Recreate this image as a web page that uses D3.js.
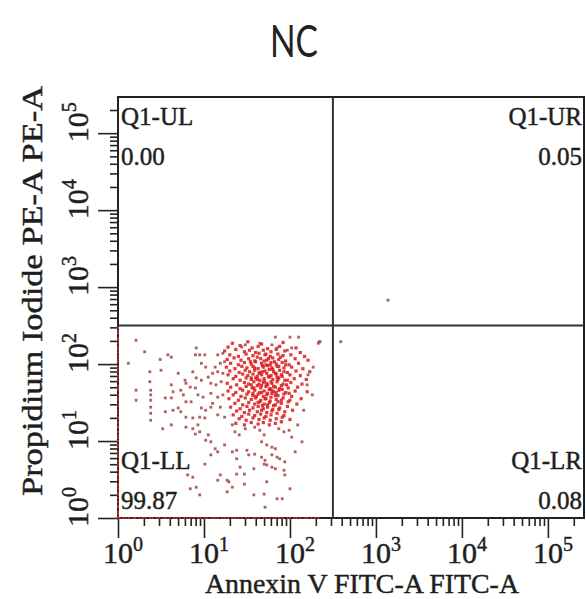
<!DOCTYPE html>
<html>
<head>
<meta charset="utf-8">
<script src="https://cdn.jsdelivr.net/npm/d3@7"></script>
<style>
  body { margin: 0; background: #fff; }
  .serif { font-family: "Liberation Serif", "Times New Roman", serif; fill: #1e1e1e; stroke: #1e1e1e; stroke-width: 0.45px; }
</style>
</head>
<body>
<div class="chart"></div>
<script>
const title = 'NC';
const xLabel = 'Annexin V FITC-A FITC-A';
const yLabel = 'Propidium Iodide PE-A PE-A';
const decades = [0, 1, 2, 3, 4, 5];
const gate = [316, 316];            // quadrant gate (Annexin, PI)
const quadNames = ['Q1-UL', 'Q1-UR', 'Q1-LL', 'Q1-LR'];
const quadValues = ['0.00', '0.05', '99.87', '0.08'];

// events as [log10 Annexin V, log10 PI]
const llCore = [
  [1.33,2.27],[1.51,2.29],[1.67,2.26],[1.92,2.28],
  [1.28,2.22],[1.42,2.24],[1.56,2.21],[1.63,2.23],[1.74,2.20],[1.88,2.23],[2.07,2.21],
  [1.24,2.17],[1.37,2.19],[1.47,2.16],[1.53,2.18],[1.60,2.15],[1.69,2.18],[1.78,2.16],[1.84,2.19],[1.94,2.17],[2.12,2.15],
  [1.30,2.12],[1.40,2.10],[1.49,2.13],[1.57,2.11],[1.64,2.14],[1.71,2.12],[1.77,2.10],[1.86,2.13],[1.92,2.11],[2.01,2.12],[2.17,2.10],
  [1.27,2.06],[1.35,2.08],[1.43,2.05],[1.52,2.07],[1.59,2.04],[1.66,2.07],[1.73,2.05],[1.80,2.08],[1.87,2.06],[1.95,2.04],[2.06,2.07],[2.21,2.05],
  [1.31,2.01],[1.40,1.99],[1.47,2.02],[1.55,2.00],[1.60,2.03],[1.67,2.01],[1.72,1.99],[1.78,2.02],[1.84,2.00],[1.91,2.02],[1.99,1.99],[2.10,2.01],
  [1.26,1.96],[1.36,1.94],[1.44,1.97],[1.50,1.95],[1.57,1.97],[1.63,1.94],[1.69,1.96],[1.74,1.98],[1.79,1.95],[1.85,1.97],[1.93,1.95],[2.02,1.96],[2.15,1.94],
  [1.30,1.91],[1.41,1.89],[1.48,1.92],[1.53,1.90],[1.59,1.92],[1.65,1.89],[1.71,1.91],[1.76,1.93],[1.81,1.90],[1.88,1.92],[1.97,1.89],[2.07,1.91],[2.23,1.90],
  [1.28,1.86],[1.37,1.84],[1.45,1.87],[1.51,1.85],[1.57,1.87],[1.62,1.84],[1.67,1.86],[1.73,1.88],[1.78,1.85],[1.84,1.87],[1.91,1.84],[2.00,1.86],[2.12,1.85],
  [1.34,1.81],[1.42,1.79],[1.49,1.82],[1.55,1.80],[1.60,1.82],[1.65,1.79],[1.70,1.81],[1.76,1.83],[1.80,1.80],[1.87,1.82],[1.94,1.79],[2.05,1.81],[2.19,1.80],
  [1.27,1.75],[1.38,1.73],[1.47,1.76],[1.52,1.74],[1.58,1.77],[1.64,1.74],[1.69,1.76],[1.74,1.73],[1.79,1.75],[1.85,1.77],[1.92,1.74],[2.01,1.76],[2.14,1.74],
  [1.31,1.70],[1.42,1.68],[1.49,1.71],[1.56,1.69],[1.62,1.72],[1.66,1.69],[1.72,1.71],[1.77,1.68],[1.83,1.70],[1.90,1.72],[1.98,1.69],[2.09,1.70],
  [1.28,1.65],[1.37,1.63],[1.45,1.66],[1.52,1.64],[1.59,1.66],[1.65,1.63],[1.70,1.65],[1.76,1.67],[1.81,1.64],[1.87,1.66],[1.95,1.63],[2.06,1.65],[2.20,1.64],
  [1.34,1.60],[1.43,1.58],[1.50,1.61],[1.57,1.59],[1.63,1.61],[1.69,1.58],[1.73,1.60],[1.79,1.62],[1.86,1.59],[1.93,1.61],[2.02,1.58],
  [1.29,1.55],[1.40,1.53],[1.48,1.56],[1.55,1.54],[1.60,1.56],[1.66,1.53],[1.72,1.55],[1.78,1.57],[1.84,1.54],[1.92,1.56],[2.00,1.53],[2.13,1.55],
  [1.36,1.49],[1.45,1.47],[1.52,1.50],[1.59,1.48],[1.65,1.51],[1.70,1.48],[1.76,1.50],[1.83,1.47],[1.90,1.49],[1.98,1.51],[2.08,1.48],
  [1.31,1.44],[1.42,1.42],[1.50,1.45],[1.57,1.43],[1.63,1.45],[1.69,1.42],[1.74,1.44],[1.81,1.46],[1.88,1.43],[1.97,1.45],
  [1.38,1.39],[1.47,1.37],[1.53,1.40],[1.62,1.38],[1.67,1.40],[1.73,1.37],[1.79,1.39],[1.87,1.41],[1.94,1.38],[2.03,1.40],
  [1.34,1.34],[1.44,1.32],[1.52,1.35],[1.59,1.33],[1.66,1.35],[1.72,1.32],[1.78,1.34],[1.85,1.36],[1.93,1.33],
  [1.41,1.29],[1.49,1.27],[1.57,1.30],[1.64,1.28],[1.70,1.30],[1.77,1.27],[1.84,1.29],[1.91,1.31],[2.00,1.28],
  [1.37,1.23],[1.47,1.21],[1.55,1.24],[1.63,1.22],[1.69,1.24],[1.76,1.21],[1.83,1.23],[1.90,1.25],
  [1.62,2.09],[1.75,2.07],[1.82,2.03],[1.68,1.98],[1.80,1.93],[1.87,1.97],[1.64,1.88],[1.75,1.84],[1.83,1.88],[1.90,1.86],
  [1.70,1.78],[1.78,1.77],[1.86,1.80],[1.67,1.72],[1.81,1.71],[1.88,1.68],[1.74,1.62],[1.84,1.63],[1.61,1.58],[1.77,1.52],
  [1.86,1.51],[1.68,1.46],[1.80,1.41],[1.58,1.69],[1.55,1.82],[1.96,1.73],[1.93,1.90],[1.72,2.13],[1.89,2.09],[1.99,1.62],
  [1.54,2.03],[1.70,2.04],[1.59,1.95],[1.77,1.99],[1.95,1.99],[1.68,1.90],[1.62,1.80],[1.85,1.83],[1.73,1.75],[1.97,1.79],
  [1.55,1.73],[1.79,1.66],[1.67,1.63],[1.91,1.67],[1.57,1.62],[1.83,1.59],[1.71,1.55],[1.90,1.53],[1.63,1.50],[1.74,1.47]
];

const llScatter = [
  [0.21,2.31],[0.31,2.16],[0.12,2.01],[0.49,2.06],[0.58,2.12],[0.62,2.09],[0.37,1.90],[0.37,1.77],[0.50,1.92],[0.70,1.88],
  [0.21,1.66],[0.21,1.53],[0.38,1.66],[0.38,1.60],[0.38,1.53],[0.38,1.44],[0.38,1.36],[0.38,1.27],[0.55,1.56],[0.62,1.56],
  [0.55,1.38],[0.64,1.40],[0.62,1.73],[0.64,1.64],[0.73,1.66],[0.76,1.60],[0.78,1.79],[0.79,1.75],[0.91,2.21],[0.90,2.12],
  [0.95,2.12],[1.01,2.12],[0.97,2.01],[1.02,1.96],[0.87,1.90],[0.91,1.82],[0.97,1.79],[0.84,1.70],[0.90,1.69],[0.93,1.60],
  [0.99,1.57],[0.79,1.51],[0.85,1.51],[0.79,1.31],[0.87,1.30],[0.97,1.43],[1.02,1.40],[1.08,1.44],[0.95,1.31],[1.01,1.30],
  [0.70,1.43],[0.73,1.38],[1.05,1.83],[1.10,1.88],[1.16,1.90],[1.22,1.88],[1.08,1.75],[1.14,1.73],[1.20,1.77],[1.13,1.96],
  [1.19,2.01],[1.24,2.03],[1.16,2.12],[1.22,2.14],[1.08,1.62],[1.16,1.57],[1.22,1.60],[1.10,1.49],[1.19,1.44],[1.16,1.34],
  [1.24,1.31],
  [1.83,2.35],[2.00,2.35],[2.10,2.35],[2.34,2.29],[1.65,2.27],[1.44,2.22],[1.48,2.25],[1.79,2.25],[1.85,2.21],[1.97,2.18],[2.02,2.21],
  [0.52,1.16],[0.62,1.21],[0.79,1.18],[0.87,1.16],[0.93,1.21],[0.90,1.09],[0.95,1.12],[1.05,1.08],[1.02,1.01],[1.08,0.99],
  [1.13,0.90],[1.08,0.82],[1.16,0.86],[1.01,0.70],[0.81,0.56],[0.87,0.53],[0.91,0.40],[0.84,0.38],[1.19,0.56],[1.16,0.49],[0.95,0.30],
  [1.33,1.21],[1.36,1.12],[1.41,1.08],[1.48,1.16],[1.59,1.18],[1.65,1.14],[1.70,1.08],[1.87,1.16],[1.93,1.12],[1.99,1.14],
  [2.02,1.05],[2.14,0.99],[1.67,0.99],[1.73,0.95],[1.79,0.92],[1.83,0.90],[1.24,0.95],[1.33,0.86],[1.38,0.88],[1.50,0.88],
  [1.52,0.82],[1.59,0.83],[1.38,0.77],[1.67,0.79],[1.71,0.75],[1.79,0.82],[1.85,0.79],[1.88,0.77],[2.06,0.86],[1.70,0.70],
  [1.73,0.69],[1.94,0.73],[1.42,0.66],[1.47,0.57],[1.38,0.57],[1.58,0.64],[1.79,0.66],[1.83,0.64],[1.93,0.62],[1.94,0.56],
  [1.27,0.49],[1.29,0.47],[1.47,0.44],[1.73,0.47],[1.33,0.40],[1.27,0.34],[2.00,0.38],[1.58,0.30],[1.70,0.31],[1.85,0.25],
  [1.91,0.25],[1.71,0.14],
  [2.27,1.96],[2.33,2.27],[2.20,1.73],[2.26,1.60],[2.16,1.40],[2.09,1.21],[2.21,1.86],[2.35,2.29]
];

const lrEvents = [[2.59, 2.29]];
const urEvents = [[3.14, 2.83]];

// PI (log10) of events piled at the Annexin V minimum
const leftPile = [0.01,0.05,0.08,0.14,0.16,0.21,0.26,0.3,0.33,0.38,0.42,0.44,0.5,0.55,0.57,0.62,0.67,0.7,0.74,0.8,
  0.83,0.86,0.92,0.95,1.0,1.04,1.07,1.12,1.17,1.19,1.24,1.29,1.31,1.36,1.4,1.45,1.48,1.53,1.56,1.6,1.66,1.69,1.72,
  1.78,1.82,1.85,1.9,1.94,1.97,2.03,2.06,2.1,2.15,2.19,2.22,2.27,2.31,2.34,2.4,2.43,2.47];
// Annexin V (log10) of events piled at the PI minimum
const bottomPile = [0.02,0.06,0.09,0.13,0.18,0.2,0.25,0.29,0.32,0.37,0.4,0.45,0.48,0.53,0.56,0.6,0.65,0.68,0.72,0.77,
  0.8,0.84,0.88,0.93,0.96,1.01,1.04,1.09,1.12,1.16,1.21,1.24,1.28,1.33,1.36,1.4,1.44,1.49,1.52,1.57,1.6,1.64,1.69,
  1.72,1.76,1.81,1.84,1.88,1.88,1.92,1.97,2.0,2.05,2.08,2.12,2.17,2.2,2.25,2.29,2.33];

const width = 586, height = 599;
const plot = { left: 118, right: 584, top: 97, bottom: 518 };

const svg = d3.select('.chart').append('svg')
  .attr('width', width)
  .attr('height', height);

const x = d3.scaleLog().domain([1, Math.pow(10, 5.42)]).range([plot.left, plot.right]);
const y = d3.scaleLog().domain([1, Math.pow(10, 5.47)]).range([plot.bottom, plot.top]);

const isMajor = v => Math.abs(Math.log10(v) - Math.round(Math.log10(v))) < 1e-9;

// title
svg.append('text')
  .attr('x', 294).attr('y', 57)
  .attr('text-anchor', 'middle')
  .attr('textLength', 48).attr('lengthAdjust', 'spacingAndGlyphs')
  .style('font-family', 'Lato, "Open Sans", sans-serif')
  .style('font-size', '44px')
  .style('fill', '#222')
  .text(title);

// ticks
function styleAxis(g) {
  g.select('.domain').remove();
  g.selectAll('line').attr('stroke', '#222').attr('stroke-width', 1.6);
}
svg.append('g').attr('transform', `translate(0,${plot.bottom})`)
  .call(d3.axisBottom(x).tickValues(x.ticks().filter(v => !isMajor(v))).tickSize(8).tickFormat(''))
  .call(styleAxis);
svg.append('g').attr('transform', `translate(0,${plot.bottom})`)
  .call(d3.axisBottom(x).tickValues(decades.map(d => Math.pow(10, d))).tickSize(20).tickFormat(''))
  .call(styleAxis);
svg.append('g').attr('transform', `translate(${plot.left},0)`)
  .call(d3.axisLeft(y).tickValues(y.ticks().filter(v => !isMajor(v))).tickSize(8).tickFormat(''))
  .call(styleAxis);
svg.append('g').attr('transform', `translate(${plot.left},0)`)
  .call(d3.axisLeft(y).tickValues(decades.map(d => Math.pow(10, d))).tickSize(20).tickFormat(''))
  .call(styleAxis);

// tick labels 10^n
const xLab = svg.append('g').attr('class', 'serif');
decades.forEach(d => {
  const px = x(Math.pow(10, d));
  xLab.append('text').attr('x', px).attr('y', 563).attr('text-anchor', 'middle')
    .style('font-size', '30px').text('10');
  xLab.append('text').attr('x', px + 15).attr('y', 551)
    .style('font-size', '20px').text(d);
});
const yLab = svg.append('g').attr('class', 'serif');
decades.forEach(d => {
  const g = yLab.append('g').attr('transform', `translate(88,${y(Math.pow(10, d)) - 6}) rotate(-90)`);
  g.append('text').attr('text-anchor', 'middle').style('font-size', '30px').text('10');
  g.append('text').attr('x', 15).attr('y', -12).style('font-size', '20px').text(d);
});

// axis titles
svg.append('text').attr('class', 'serif')
  .attr('x', 362).attr('y', 593)
  .attr('text-anchor', 'middle')
  .attr('textLength', 314).attr('lengthAdjust', 'spacingAndGlyphs')
  .style('font-size', '27px')
  .text(xLabel);
svg.append('text').attr('class', 'serif')
  .attr('transform', 'translate(42,291) rotate(-90)')
  .attr('text-anchor', 'middle')
  .attr('textLength', 410).attr('lengthAdjust', 'spacingAndGlyphs')
  .style('font-size', '30px')
  .text(yLabel);

// frame and quadrant gate
svg.append('rect')
  .attr('x', plot.left).attr('y', plot.top)
  .attr('width', plot.right - plot.left).attr('height', plot.bottom - plot.top)
  .attr('fill', 'none').attr('stroke', '#222').attr('stroke-width', 2);
svg.append('line')
  .attr('x1', x(gate[0])).attr('x2', x(gate[0]))
  .attr('y1', plot.top).attr('y2', plot.bottom)
  .attr('stroke', '#333').attr('stroke-width', 2);
svg.append('line')
  .attr('x1', plot.left).attr('x2', plot.right)
  .attr('y1', y(gate[1])).attr('y2', y(gate[1]))
  .attr('stroke', '#333').attr('stroke-width', 2);

// events: piled-up edge events are thin, scattered ones greyish red, the core bright red
const edgeEvents = [...leftPile.map(v => [0, v]), ...bottomPile.map(v => [v, 0])];
const layers = [
  { data: edgeEvents, size: 2, fill: '#c62a2a' },
  { data: [...llScatter, ...lrEvents, ...urEvents], size: 2.8, fill: '#a84848' },
  { data: llCore, size: 3.2, fill: '#dc2020' }
];
layers.forEach(layer => {
  svg.append('g')
    .selectAll('rect')
    .data(layer.data)
    .join('rect')
    .attr('x', d => x(Math.pow(10, d[0])) - layer.size / 2)
    .attr('y', d => y(Math.pow(10, d[1])) - layer.size / 2)
    .attr('width', layer.size)
    .attr('height', layer.size)
    .attr('fill', layer.fill)
    .attr('fill-opacity', 0.88);
});

// quadrant labels
const qx = [plot.left + 3, plot.right - 2, plot.left + 3, plot.right - 2];
const qy = [125, 125, 469, 469];
const qLab = svg.append('g').attr('class', 'serif').style('font-size', '25px');
quadNames.forEach((name, i) => {
  const anchor = i % 2 ? 'end' : 'start';
  qLab.append('text').attr('x', qx[i]).attr('y', qy[i]).attr('text-anchor', anchor).text(name);
  qLab.append('text').attr('x', qx[i]).attr('y', qy[i] + 40).attr('text-anchor', anchor).text(quadValues[i]);
});
</script>
</body>
</html>
